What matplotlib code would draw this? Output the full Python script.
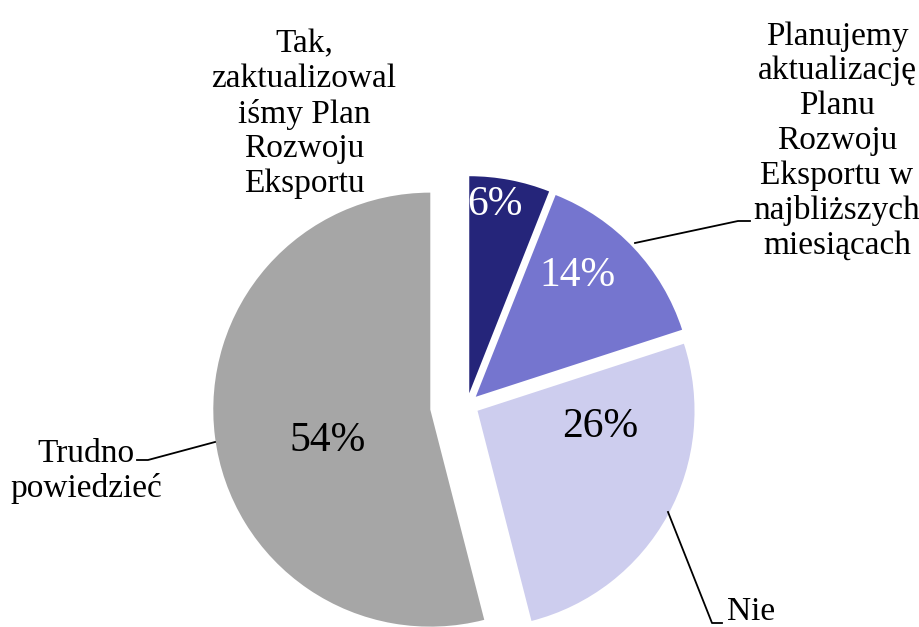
import matplotlib
matplotlib.use('Agg')
import matplotlib.pyplot as plt

categories = ["Tak,\nzaktualizowal\niśmy Plan\nRozwoju\nEksportu",
              "Planujemy\naktualizację\nPlanu\nRozwoju\nEksportu w\nnajbliższych\nmiesiącach",
              "Nie",
              "Trudno\npowiedzieć"]
values = [6, 14, 26, 54]
colors = ['#25257A', '#7575CF', '#CDCDEE', '#A6A6A6']
explode = [12, 12, 12, 37]

W, H = 919, 627
fig = plt.figure(figsize=(W / 100, H / 100), dpi=100)
ax = fig.add_axes([0, 0, 1, 1])
wedges, _ = ax.pie(values, colors=colors, startangle=90, counterclock=False,
                   radius=217, center=(467, 222), explode=explode,
                   wedgeprops=dict(linewidth=0))
ax.set_xlim(0, W)
ax.set_ylim(0, H)
ax.set_aspect('equal')
ax.axis('off')

serif = ['Liberation Serif', 'DejaVu Serif']

# percentage labels
pct_pos = [(495, 422), (577, 351), (600, 200), (328, 186)]
pct_col = ['white', 'white', 'black', 'black']
for v, (x, y), c in zip(values, pct_pos, pct_col):
    ax.text(x, y, f"{v}%", ha='center', va='center', fontsize=30,
            color=c, family=serif)

# category labels
lab_fs = 24
ls = 1.18
ax.text(304, 513, categories[0], ha='center', va='center', fontsize=lab_fs,
        family=serif, linespacing=ls, multialignment='center')
ax.text(837, 486, categories[1], ha='center', va='center', fontsize=lab_fs,
        family=serif, linespacing=ls, multialignment='center')
ax.text(727, 7, categories[2], ha='left', va='baseline', fontsize=lab_fs,
        family=serif)
ax.text(86, 156, categories[3], ha='center', va='center', fontsize=lab_fs,
        family=serif, linespacing=ls, multialignment='center')

# leader lines
ax.plot([635, 738, 750], [H - 243, H - 221, H - 221], color='black', lw=1.3)
ax.plot([668, 712, 722], [H - 512, H - 623, H - 623], color='black', lw=1.3)
ax.plot([137, 148, 215], [H - 460, H - 460, H - 442], color='black', lw=1.3)

fig.savefig('out.png', dpi=100)
